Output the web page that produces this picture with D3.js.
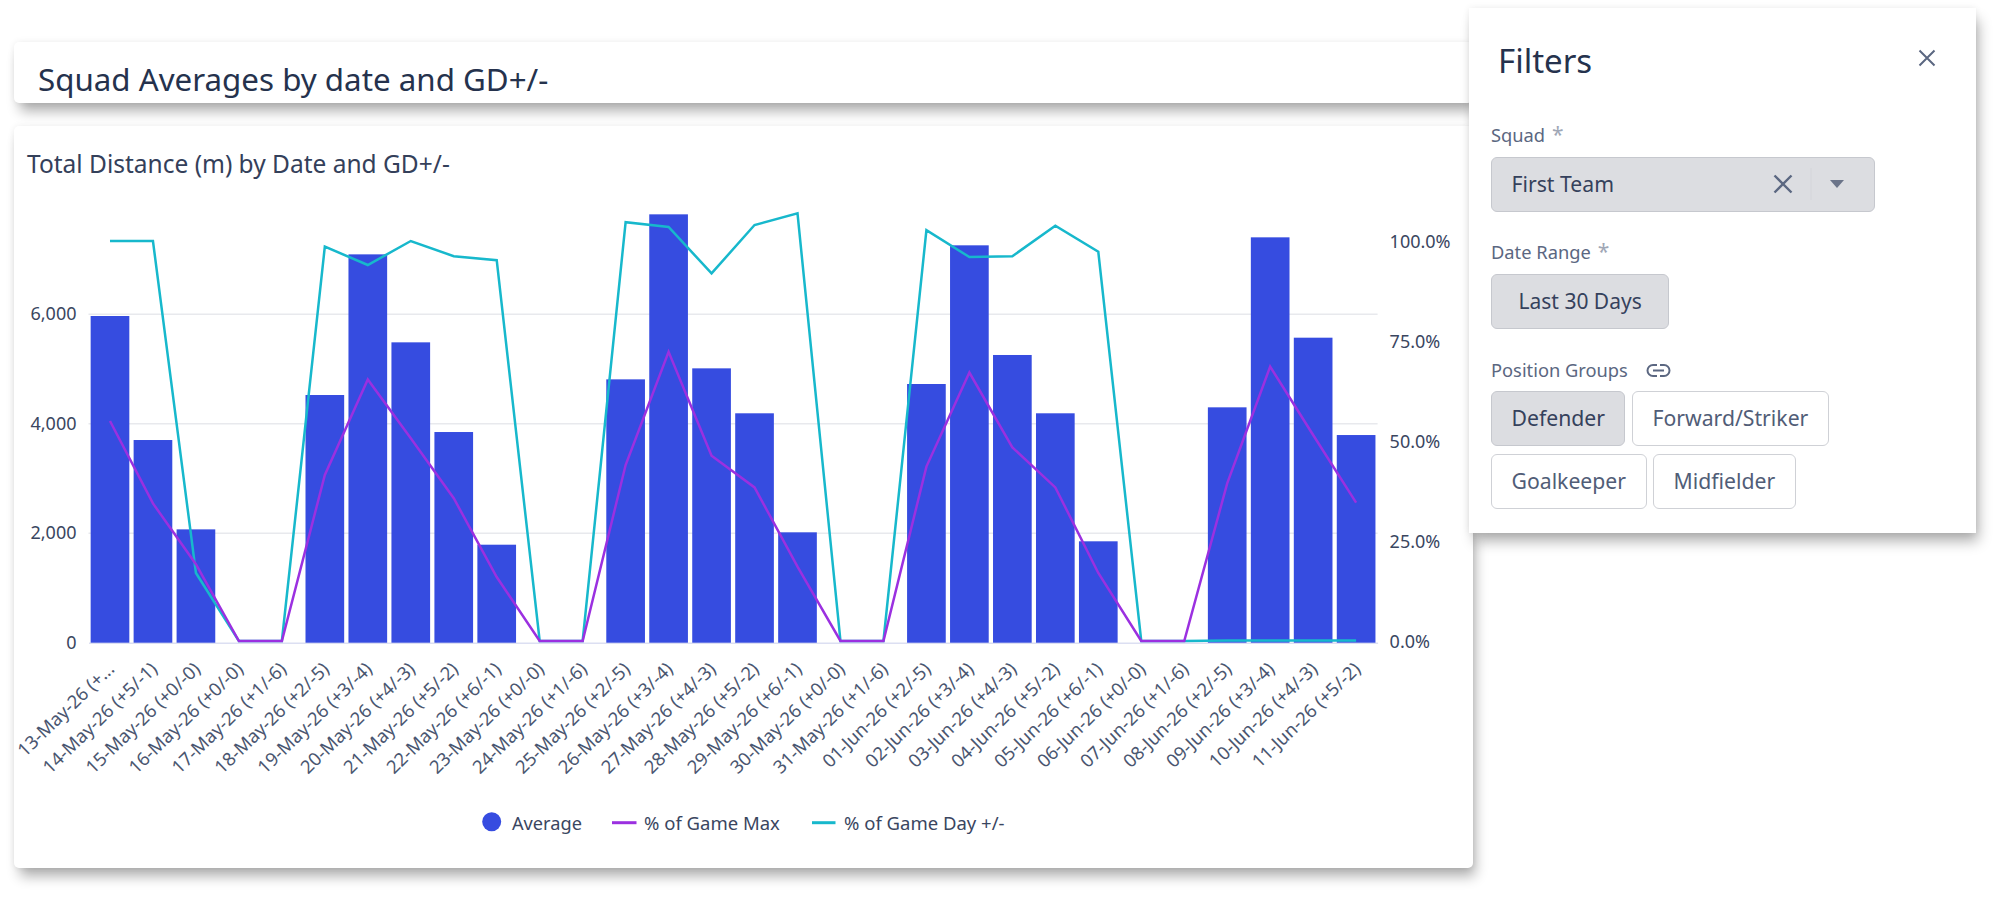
<!DOCTYPE html>
<html>
<head>
<meta charset="utf-8">
<title>Squad Averages by date and GD+/-</title>
<script src="https://cdn.jsdelivr.net/npm/d3@7"></script>
<style>
  html, body { margin: 0; background: #fff; overflow: hidden; }
  body { width: 1999px; height: 898px; position: relative; font-family: "Noto Sans", sans-serif; }
  .card { position: absolute; background: #fff; border-radius: 5px; box-sizing: border-box;
          box-shadow: 0 0 7px rgba(0,0,0,.07), 4px 10px 13px -2px rgba(0,0,0,.32); }
  .label { position: absolute; left: 22px; font-size: 18.3px; color: #5b6781; line-height: 24px; }
  .label .star { color: #a0a7b6; margin-left: 7px; font-size: 21px; line-height: 20px; }
  .btn { box-sizing: border-box; height: 55px; line-height: 52px; padding: 0 19.5px; border-radius: 6px;
         font-size: 21.2px; color: #515d77; background: #fff; border: 1.5px solid #cfd1d6; }
  .btn.on { background: #dcdde1; border-color: #c6c8ce; color: #35415c; }
  svg text { font-family: "Noto Sans", sans-serif; }
  svg { position: absolute; left: 0; top: 0; }
</style>
</head>
<body>
<div id="dataviz"></div>
<script>
// values
const dates = ["13-May-26 (+...", "14-May-26 (+5/-1)", "15-May-26 (+0/-0)", "16-May-26 (+0/-0)", "17-May-26 (+1/-6)",
  "18-May-26 (+2/-5)", "19-May-26 (+3/-4)", "20-May-26 (+4/-3)", "21-May-26 (+5/-2)", "22-May-26 (+6/-1)",
  "23-May-26 (+0/-0)", "24-May-26 (+1/-6)", "25-May-26 (+2/-5)", "26-May-26 (+3/-4)", "27-May-26 (+4/-3)",
  "28-May-26 (+5/-2)", "29-May-26 (+6/-1)", "30-May-26 (+0/-0)", "31-May-26 (+1/-6)", "01-Jun-26 (+2/-5)",
  "02-Jun-26 (+3/-4)", "03-Jun-26 (+4/-3)", "04-Jun-26 (+5/-2)", "05-Jun-26 (+6/-1)", "06-Jun-26 (+0/-0)",
  "07-Jun-26 (+1/-6)", "08-Jun-26 (+2/-5)", "09-Jun-26 (+3/-4)", "10-Jun-26 (+4/-3)", "11-Jun-26 (+5/-2)"];
const average = [5967, 3702, 2070, 0, 0, 4524, 7093, 5486, 3848, 1790,
  0, 0, 4810, 7824, 5011, 4190, 2016, 0, 0, 4725,
  7258, 5255, 4190, 1852, 0, 0, 4299, 7404, 5571, 3793];
const pctGameMax = [55, 34.4, 19.2, 0, 0, 41.5, 65.4, 50.7, 35.7, 16,
  0, 0, 44, 72.3, 46.3, 38.4, 18.6, 0, 0, 43.6,
  67.1, 48.4, 38.4, 17, 0, 0, 39.4, 68.6, 51.5, 34.6];
const pctGameDay = [100, 100, 17, 0, 0, 98.6, 94, 100, 96.2, 95.2,
  0, 0, 104.7, 103.5, 91.9, 104, 106.9, 0, 0, 102.7,
  96, 96.2, 103.8, 97.3, 0, 0, 0.1, 0.1, 0.1, 0.1];
const leftTicks = [0, 2000, 4000, 6000];
const rightTicks = [0, 25, 50, 75, 100];
const positionGroups = ["Defender", "Forward/Striker", "Goalkeeper", "Midfielder"];

const blue = "#364ce0", purple = "#9b30e0", teal = "#17b8cc", ink = "#3a465f";

const body = d3.select("body");

// cards behind the chart
body.append("div").attr("class", "card")
    .style("left", "14px").style("top", "42px").style("width", "1459px").style("height", "61px");
body.append("div").attr("class", "card")
    .style("left", "14px").style("top", "126px").style("width", "1459px").style("height", "742px");

// chart
const svg = body.append("svg").attr("width", 1999).attr("height", 898);

svg.append("text").attr("x", 38).attr("y", 91).attr("font-size", 31.3).attr("fill", "#25324d")
    .text("Squad Averages by date and GD+/-");
svg.append("text").attr("x", 27).attr("y", 172.5).attr("font-size", 24.5).attr("fill", "#34405a")
    .text("Total Distance (m) by Date and GD+/-");

const x = d3.scaleBand().domain(dates).range([88.5, 1377.6]).paddingInner(0.1).paddingOuter(0.05);
const y = d3.scaleLinear().domain([0, 8000]).range([642.7, 204.7]);
const y2 = d3.scaleLinear().domain([0, 100]).range([641, 241]);

// gridlines
svg.append("g").selectAll("line").data(leftTicks.slice(1)).enter().append("line")
    .attr("x1", 88.5).attr("x2", 1377.6)
    .attr("y1", d => y(d)).attr("y2", d => y(d))
    .attr("stroke", "#e8e9ed").attr("stroke-width", 1.5);

// axes
const axisLeft = svg.append("g").attr("transform", "translate(88.5,0)")
    .call(d3.axisLeft(y).tickValues(leftTicks).tickSize(0).tickPadding(12).tickFormat(d3.format(",")));
axisLeft.select(".domain").remove();
axisLeft.selectAll("text").attr("font-size", 18).attr("fill", ink).attr("dy", "0.3em");

const axisRight = svg.append("g").attr("transform", "translate(1377.6,0)")
    .call(d3.axisRight(y2).tickValues(rightTicks).tickSize(0).tickPadding(12).tickFormat(d => d.toFixed(1) + "%"));
axisRight.select(".domain").remove();
axisRight.selectAll("text").attr("font-size", 18).attr("fill", ink).attr("dy", "0.36em");

const axisBottom = svg.append("g").attr("transform", "translate(0,642.7)")
    .call(d3.axisBottom(x).tickSize(0));
axisBottom.select(".domain").attr("stroke", "#dcdff2").attr("stroke-width", 1.5);
axisBottom.selectAll("text")
    .attr("font-size", 18.4).attr("fill", "#4a5670")
    .attr("text-anchor", "end")
    .attr("transform", "translate(1,23) rotate(-44)")
    .attr("dy", "0.35em").attr("y", 0);

// bars
svg.append("g").selectAll("rect").data(average).enter().append("rect")
    .attr("x", (d, i) => x(dates[i]))
    .attr("width", x.bandwidth())
    .attr("y", d => y(d))
    .attr("height", d => y(0) - y(d))
    .attr("fill", blue);

// lines
const line = d3.line().x((d, i) => x(dates[i]) + x.bandwidth() / 2).y(d => y2(d));
svg.append("path").datum(pctGameDay).attr("d", line)
    .attr("fill", "none").attr("stroke", teal).attr("stroke-width", 2.5);
svg.append("path").datum(pctGameMax).attr("d", line)
    .attr("fill", "none").attr("stroke", purple).attr("stroke-width", 2.5);

// legend
const legend = svg.append("g");
legend.append("circle").attr("cx", 491.7).attr("cy", 821.7).attr("r", 9.5).attr("fill", blue);
legend.append("text").attr("x", 512).attr("y", 830).attr("font-size", 18.2).attr("fill", ink).text("Average");
legend.append("line").attr("x1", 612).attr("x2", 636.5).attr("y1", 822.7).attr("y2", 822.7)
    .attr("stroke", purple).attr("stroke-width", 3);
legend.append("text").attr("x", 644).attr("y", 830).attr("font-size", 18.5).attr("fill", ink).text("% of Game Max");
legend.append("line").attr("x1", 812).attr("x2", 835.5).attr("y1", 822.7).attr("y2", 822.7)
    .attr("stroke", teal).attr("stroke-width", 3);
legend.append("text").attr("x", 844).attr("y", 830).attr("font-size", 18.5).attr("fill", ink).text("% of Game Day +/-");

// filter panel on top of everything
const panel = body.append("div").attr("class", "card")
    .style("left", "1469px").style("top", "8px").style("width", "507px").style("height", "525px")
    .style("border-radius", "0");

panel.append("div").style("position", "absolute").style("left", "29px").style("top", "31px")
    .style("font-size", "33px").style("line-height", "44px").style("color", "#25324d").text("Filters");

panel.append("div").attr("class", "label").style("top", "115px")
    .html('Squad<span class="star">*</span>');
panel.append("div").attr("class", "btn on").style("position", "absolute")
    .style("left", "22px").style("top", "148.5px").style("width", "384px").text("First Team");

panel.append("div").attr("class", "label").style("top", "232px")
    .html('Date Range<span class="star">*</span>');
panel.append("div").attr("class", "btn on").style("position", "absolute")
    .style("left", "22px").style("top", "266px").style("padding", "0 26.5px").style("font-size", "21px")
    .style("color", "#35415c").text("Last 30 Days");

panel.append("div").attr("class", "label").style("top", "350px").text("Position Groups");

panel.append("div").style("position", "absolute").style("left", "22px").style("top", "383px")
    .style("width", "400px").style("display", "flex").style("flex-wrap", "wrap")
    .style("gap", "7.5px 6.5px")
  .selectAll("div").data(positionGroups).enter().append("div")
    .attr("class", (d, i) => i === 0 ? "btn on" : "btn")
    .text(d => d);

// panel icons
const icons = panel.append("svg").attr("width", 507).attr("height", 525)
    .style("pointer-events", "none");
const cross = (cx, cy, r, w) => icons.append("path")
    .attr("d", `M${cx - r},${cy - r}L${cx + r},${cy + r}M${cx + r},${cy - r}L${cx - r},${cy + r}`)
    .attr("stroke", "#5b6781").attr("stroke-width", w).attr("fill", "none");
cross(458, 50, 7.5, 2);
cross(314, 176, 8.5, 2.4);
icons.append("line").attr("x1", 342).attr("x2", 342).attr("y1", 160).attr("y2", 192).attr("stroke", "#d4d5da");
icons.append("path").attr("d", "M361,172h14l-7,8z").attr("fill", "#6b7489");
// link icon: two hooks and a bar
icons.append("path").attr("d", "M188,357h-4a5.5,5.5 0 0,0 0,11h4M191,357h4a5.5,5.5 0 0,1 0,11h-4M184,362.5h11")
    .attr("fill", "none").attr("stroke", "#5b6781").attr("stroke-width", 2);
</script>
</body>
</html>
